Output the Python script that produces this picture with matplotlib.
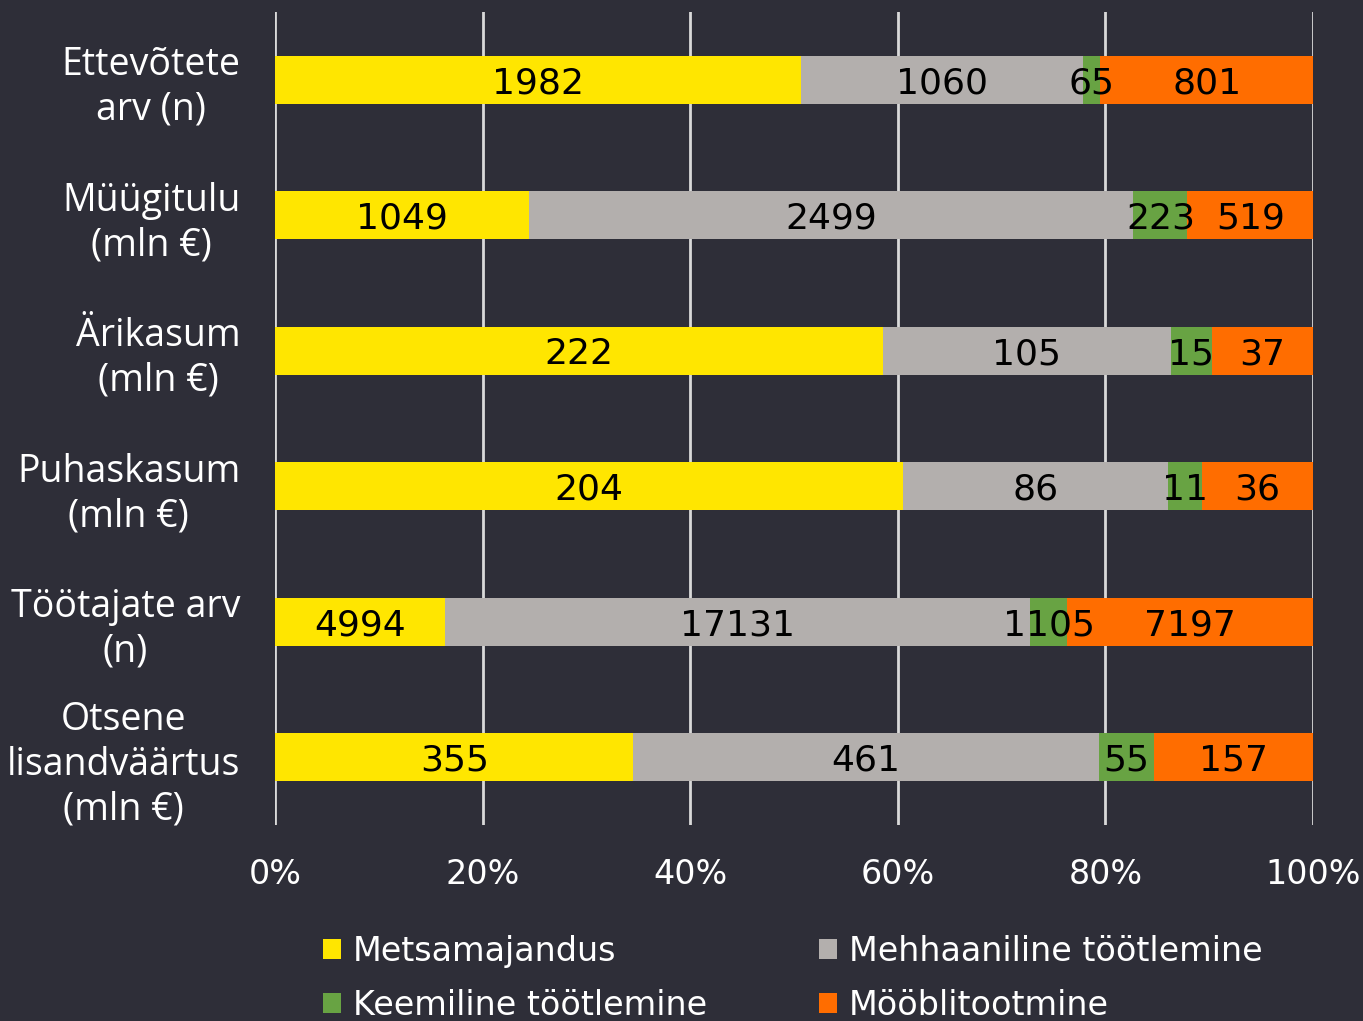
import numpy as np
import matplotlib.pyplot as plt
from matplotlib.patches import Patch

# ---------- DATA ----------
categories = ["Ettevõtete\narv (n)", "Müügitulu\n(mln €)", "Ärikasum\n(mln €)",
              "Puhaskasum\n(mln €)", "Töötajate arv\n(n)", "Otsene\nlisandväärtus\n(mln €)"]
series_names = ["Metsamajandus", "Mehhaaniline töötlemine", "Keemiline töötlemine", "Mööblitootmine"]
metsamajandus = [1982, 1049, 222, 204, 4994, 355]
mehhaaniline = [1060, 2499, 105, 86, 17131, 461]
keemiline = [65, 223, 15, 11, 1105, 55]
mooblitootmine = [801, 519, 37, 36, 7197, 157]
tick_labels = ["0%", "20%", "40%", "60%", "80%", "100%"]

colors = ["#FFE600", "#B3AFAD", "#68A343", "#FF6D00"]
bg = "#2E2E38"
light = ["Open Sans", "DejaVu Sans"]

# ---------- PLOT ----------
fig = plt.figure(figsize=(13.63, 10.21), dpi=100, facecolor=bg)
ax = fig.add_axes([0.2018, 0.192, 0.7615, 0.7962])
ax.set_facecolor(bg)

data = np.array([metsamajandus, mehhaaniline, keemiline, mooblitootmine], dtype=float)
totals = data.sum(axis=0)
shares = data / totals * 100
y = np.arange(len(categories))

left = np.zeros(len(categories))
for i in range(len(series_names)):
    ax.barh(y, shares[i], left=left, height=0.355, color=colors[i], zorder=3)
    for j in range(len(categories)):
        ax.text(left[j] + shares[i][j] / 2, y[j], str(int(data[i][j])),
                ha="center", va="center_baseline", fontsize=26, color="black", zorder=4)
    left += shares[i]

ax.set_xlim(0, 100)
ax.set_ylim(5.5, -0.5)
ax.set_xticks(np.arange(0, 101, 20))
ax.set_xticklabels(tick_labels, fontsize=24, color="white")
ax.set_yticks(y)
ax.set_yticklabels(categories, family=light, fontsize=27, color="white", linespacing=1.23)
for lbl in ax.get_yticklabels():
    lbl.set_multialignment("center")
ax.tick_params(axis="both", length=0)
ax.tick_params(axis="x", pad=24)
ax.tick_params(axis="y", pad=25)
ax.grid(axis="x", color="#D9D9D9", linewidth=2, zorder=1)
for s in ax.spines.values():
    s.set_visible(False)

# legend: row-wise order -> reorder for column filling
handles = [Patch(facecolor=c) for c in colors]
order = [0, 2, 1, 3]
fig.legend([handles[k] for k in order], [series_names[k] for k in order],
           ncol=2, loc="upper left", bbox_to_anchor=(0.237, 0.084),
           frameon=False, prop={"size": 24},
           labelcolor="white", handlelength=0.55, handleheight=0.55,
           handletextpad=0.35, columnspacing=3.35, labelspacing=0.62,
           borderaxespad=0, borderpad=0)

fig.savefig("out.png", dpi=100, facecolor=bg)
